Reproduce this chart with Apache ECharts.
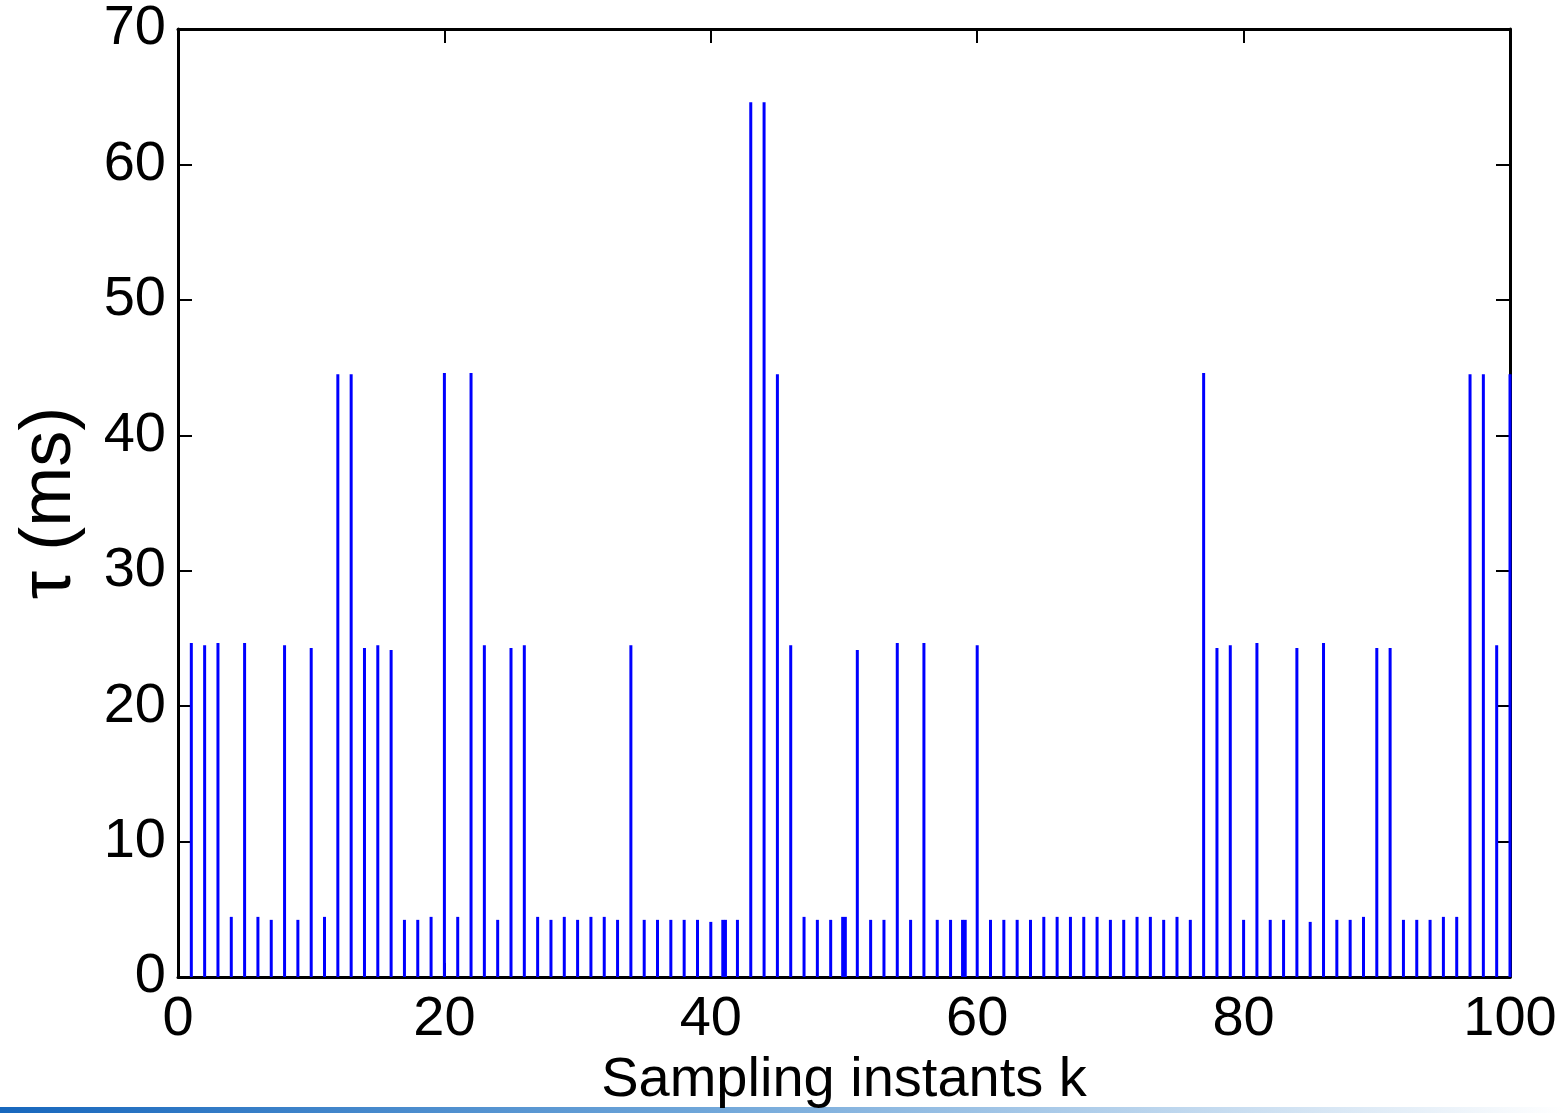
<!DOCTYPE html>
<html>
<head>
<meta charset="utf-8">
<script src="https://cdn.jsdelivr.net/npm/echarts@6/dist/echarts.min.js"></script>
<style>
html,body{margin:0;padding:0;background:#fff;}
#chart{width:1564px;height:1114px;}
</style>
</head>
<body>
<div id="chart"></div>
<script>
// Sampling instants (k) and network delays tau (ms)
const kInstants = [
  1,2,3,4,5,6,7,8,9,10,
  11,12,13,14,15,16,17,18,19,20,
  21,22,23,24,25,26,27,28,29,30,
  31,32,33,34,35,36,37,38,39,40,
  40.9,41.1,42,43,44,45,46,47,48,49,
  49.9,50.1,51,52,53,54,55,56,57,58,
  58.9,59.1,60,61,62,63,64,65,66,67,68,69,70,
  71,72,73,74,75,76,77,78,79,80,
  81,82,83,84,85,86,87,88,89,90,
  91,92,93,94,95,96,97,98,99,100
];
const tauValues = [
  24.67,24.5,24.67,4.44,24.67,4.44,4.22,24.5,4.22,24.3,
  4.44,44.5,44.5,24.3,24.5,24.15,4.22,4.22,4.44,44.6,
  4.44,44.6,24.5,4.22,24.3,24.5,4.44,4.22,4.44,4.22,
  4.44,4.44,4.22,24.5,4.22,4.22,4.22,4.22,4.22,4.07,
  4.22,4.22,4.22,64.6,64.6,44.5,24.5,4.44,4.22,4.22,
  4.44,4.44,24.15,4.22,4.22,24.67,4.22,24.67,4.22,4.22,
  4.22,4.22,24.5,4.22,4.22,4.22,4.22,4.44,4.44,4.44,4.44,4.44,4.22,
  4.22,4.44,4.44,4.22,4.44,4.22,44.6,24.3,24.5,4.22,
  24.67,4.22,4.22,24.3,4.07,24.67,4.22,4.22,4.44,24.3,
  24.3,4.22,4.22,4.22,4.44,4.44,44.5,44.5,24.5,44.5
];
const xTicks = [0,20,40,60,80,100];
const yTicks = [0,10,20,30,40,50,60,70];

const data = kInstants.map((k,i)=>[k,tauValues[i]]);
const FONT = "'Liberation Sans', Arial, Helvetica, sans-serif";

const chart = echarts.init(document.getElementById('chart'), null, {renderer:'canvas'});
const axisLineStyle = {color:'#000', width:3};
const tickStyle = {show:true, inside:true, length:14, lineStyle:{color:'#000', width:2}};
chart.setOption({
  animation:false,
  backgroundColor:'#fff',
  grid:{left:178, right:54, top:29, bottom:137, containLabel:false},
  xAxis:[{
    type:'value', min:0, max:100, interval:20,
    name:'Sampling instants k', nameLocation:'middle', nameGap:71,
    nameTextStyle:{fontFamily:FONT, fontSize:56, color:'#000'},
    axisLine:{show:true, onZero:false, lineStyle:axisLineStyle},
    axisTick:tickStyle,
    axisLabel:{margin:15, fontFamily:FONT, fontSize:56, color:'#000',
      formatter:v=>xTicks.includes(v)?String(v):''},
    splitLine:{show:false}
  },{
    type:'value', min:0, max:100, interval:20, position:'top',
    axisLine:{show:true, onZero:false, lineStyle:axisLineStyle},
    axisTick:tickStyle,
    axisLabel:{show:false}, splitLine:{show:false}
  }],
  yAxis:[{
    type:'value', min:0, max:70, interval:10,
    name:'τ (ms)', nameLocation:'middle', nameGap:92, nameRotate:90,
    nameTextStyle:{fontFamily:FONT, fontSize:72, color:'#000'},
    axisLine:{show:true, onZero:false, lineStyle:axisLineStyle},
    axisTick:tickStyle,
    axisLabel:{margin:12, fontFamily:FONT, fontSize:56, color:'#000',
      formatter:v=>yTicks.includes(v)?String(v):''},
    splitLine:{show:false}
  },{
    type:'value', min:0, max:70, interval:10, position:'right',
    axisLine:{show:true, onZero:false, lineStyle:axisLineStyle},
    axisTick:tickStyle,
    axisLabel:{show:false}, splitLine:{show:false}
  }],
  series:[{
    type:'custom',
    xAxisIndex:0, yAxisIndex:0,
    data:data,
    clip:false,
    renderItem:function(params, api){
      const top = api.coord([api.value(0), api.value(1)]);
      const base = api.coord([api.value(0), 0]);
      const w = 3;
      return {
        type:'rect',
        shape:{x:top[0]-w/2, y:top[1], width:w, height:base[1]-top[1]},
        style:{fill:'#0000ff'}
      };
    },
    z:1
  }],
  graphic:[{
    type:'rect', left:0, top:1107, z:-1,
    shape:{width:1564, height:6},
    style:{fill:new echarts.graphic.LinearGradient(0,0,1,0,[
      {offset:0, color:'#1767bd'},
      {offset:0.45, color:'#6fa6d9'},
      {offset:1, color:'#ffffff'}
    ])}
  }]
});
</script>
</body>
</html>
